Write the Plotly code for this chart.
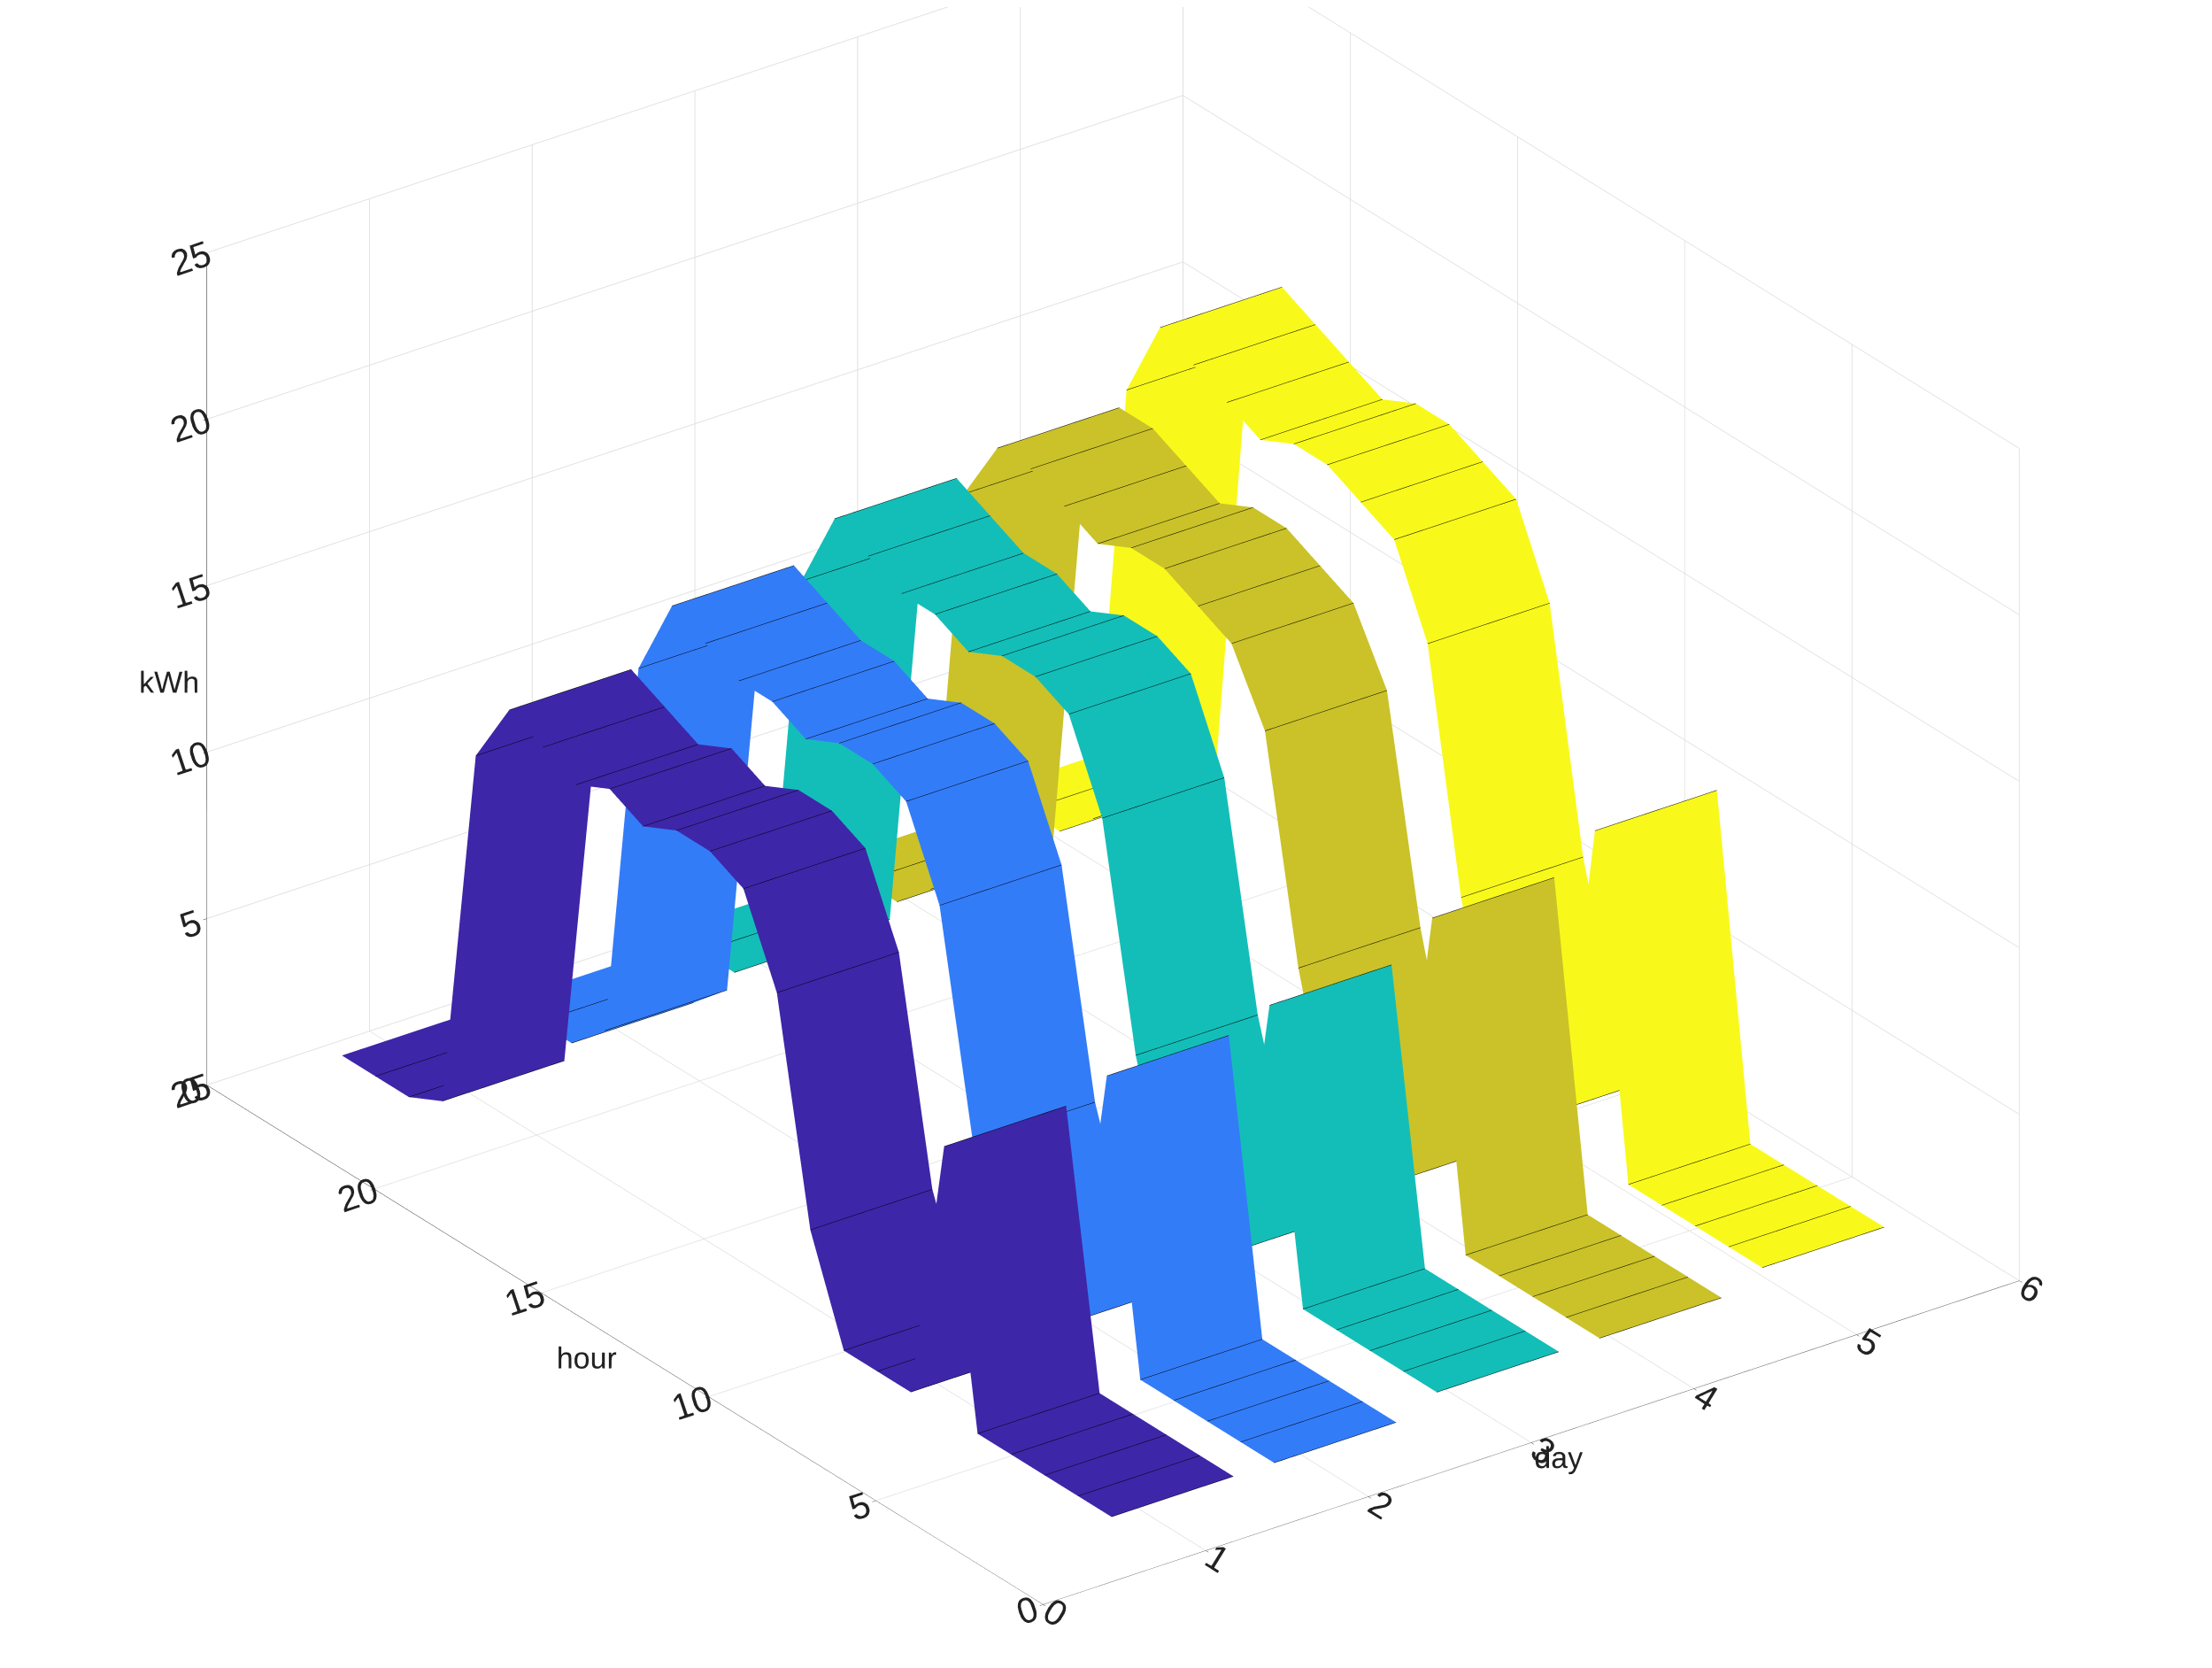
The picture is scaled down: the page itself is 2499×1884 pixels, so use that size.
import plotly.graph_objects as go
import numpy as np

hours = list(range(1, 25))
days = [1, 2, 3, 4, 5]
colors = ["#3E26A8", "#337CF8", "#13BEB8", "#CAC228", "#F8F91A"]
kwh = {
    1: [1.0,1.0,1.0,1.0,1.0,9.0,1.0,1.0,1.0,4.0,10.5,13.0,13.5,13.5,13.0,13.5,13.0,13.5,14.0,12.0,1.0,0.5,0.5,0.5],
    2: [1.0,1.0,1.0,1.0,1.0,9.5,1.5,1.5,1.5,5.0,11.5,14.0,14.5,14.5,14.0,14.5,14.5,15.0,15.5,13.0,1.5,0.5,0.5,0.5],
    3: [1.5,1.5,1.5,1.5,1.5,10.0,2.0,2.0,2.0,6.0,12.5,15.0,15.5,15.5,15.0,15.5,15.5,16.0,16.5,14.0,2.0,1.0,1.0,1.0],
    4: [1.5,1.5,1.5,1.5,1.5,11.0,2.5,2.5,2.5,7.0,13.5,15.5,16.0,16.5,16.5,16.0,16.5,17.0,17.0,15.0,2.5,1.5,1.5,1.5],
    5: [2.0,2.0,2.0,2.0,2.0,12.0,3.0,3.0,3.0,7.5,14.5,17.0,17.5,18.0,18.0,17.5,18.0,18.5,19.0,16.5,3.0,2.0,2.0,2.0],
}

fig = go.Figure()
w = 0.375
for d, c in zip(days, colors):
    z = np.array(kwh[d])
    Z = np.vstack([z, z]).T
    fig.add_trace(go.Surface(
        x=[d - w, d + w], y=hours, z=Z,
        colorscale=[[0, c], [1, c]], showscale=False,
        lighting=dict(ambient=1, diffuse=0, specular=0, roughness=1, fresnel=0),
        contours=dict(
            y=dict(show=True, start=1, end=24, size=1, color="black", width=1),
            x=dict(show=True, start=d - w, end=d + w, size=2 * w, color="black", width=1),
        ),
        hoverinfo="skip",
    ))

ax = dict(showgrid=True, gridcolor="#e0e0e0", showbackground=False, showline=True,
          linecolor="#333", ticks="outside", tickcolor="#333",
          tickfont=dict(size=22, family="Liberation Sans", color="#222"),
          zeroline=False, showspikes=False)
fig.update_layout(
    width=2499, height=1884, paper_bgcolor="white",
    margin=dict(l=0, r=0, t=0, b=0),
    font=dict(family="Liberation Sans", size=26, color="#222"),
    scene=dict(
        domain=dict(x=[0, 1], y=[0, 1]),
        xaxis=dict(ax, range=[0, 6], dtick=1, title=dict(text="day", font=dict(size=34))),
        yaxis=dict(ax, range=[0, 25], dtick=5, title=dict(text="hour", font=dict(size=34))),
        zaxis=dict(ax, range=[0, 25], dtick=5, title=dict(text="kWh", font=dict(size=34))),
        aspectmode="manual", aspectratio=dict(x=1.45, y=1.7, z=1.12),
        camera=dict(eye=dict(x=-0.95, y=-1.3, z=0.72), center=dict(x=0, y=0, z=-0.1),
                    projection=dict(type="orthographic")),
    ),
)
fig.write_html("out.html")
